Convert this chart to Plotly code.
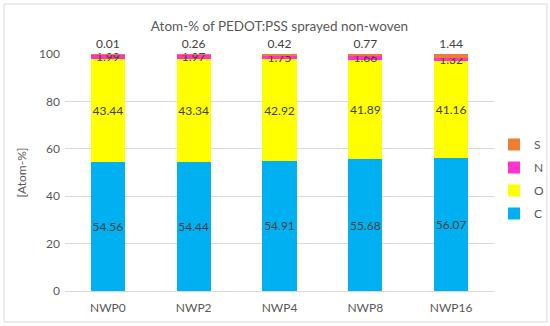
import plotly.graph_objects as go

categories = ["NWP0", "NWP2", "NWP4", "NWP8", "NWP16"]
C = [54.56, 54.44, 54.91, 55.68, 56.07]
O = [43.44, 43.34, 42.92, 41.89, 41.16]
N = [1.99, 1.97, 1.75, 1.66, 1.32]
S = [0.01, 0.26, 0.42, 0.77, 1.44]

series = [("C", C, "#00B0F0", "inside", 4),
          ("O", O, "#FFFF00", "inside", 3),
          ("N", N, "#FF33CC", "inside", 2),
          ("S", S, "#ED7D31", "outside", 1)]

FONT = "Lato"
L, R, T, B = 65, 56, 54, 35
PW, PH = 550 - L - R, 326 - T - B

fig = go.Figure()
for name, vals, col, pos, rank in series:
    fig.add_trace(go.Bar(
        x=categories, y=vals, name=name, marker_color=col,
        marker_line_width=0,
        text=[f"{v:.2f}" for v in vals], textposition=pos, textangle=0,
        insidetextanchor="middle", constraintext="none",
        textfont=dict(family=FONT, size=12, color="#404040"),
        cliponaxis=False, legendgroup=name, legendrank=rank,
    ))

fig.update_layout(
    barmode="stack", bargap=0.6,
    width=550, height=326,
    margin=dict(l=L, r=R, t=T, b=B, autoexpand=False),
    paper_bgcolor="white", plot_bgcolor="white",
    font=dict(family=FONT, color="#595959", size=12),
    title=dict(text="Atom-% of PEDOT:PSS sprayed non-woven", x=(L + PW / 2) / 550, xanchor="center",
               y=1 - 26 / 326, yanchor="middle",
               font=dict(size=13.5, color="#595959", family=FONT)),
    legend=dict(traceorder="grouped", x=(494 - L) / PW, xanchor="left",
                y=(326 - B - 130) / PH, yanchor="top",
                tracegroupgap=4, font=dict(size=12, color="#595959"),
                bgcolor="rgba(0,0,0,0)"),
    showlegend=True,
)
fig.update_yaxes(range=[0, 100.03], tickvals=[0, 20, 40, 60, 80, 100], showgrid=True, gridcolor="#D9D9D9",
                 zeroline=False, showline=False, ticks="", automargin=False, ticklabelstandoff=4,
                 tickfont=dict(size=12, color="#595959"),
                 title=dict(text="[Atom-%]", font=dict(size=12, color="#595959"), standoff=9))
fig.update_xaxes(range=[-0.5, 4.5], showgrid=False, showline=True, linecolor="#D9D9D9", ticks="",
                 automargin=False, ticklabelstandoff=6, tickfont=dict(size=12, color="#595959"))

fig.add_shape(type="rect", xref="paper", yref="paper",
              x0=(4 - L) / PW, x1=(547 - L) / PW,
              y0=(326 - B - 322) / PH, y1=(326 - B - 4) / PH,
              line=dict(color="#D9D9D9", width=1), fillcolor="rgba(0,0,0,0)", layer="below")

fig.write_html("out.html", config={"displayModeBar": False},
               post_script="document.body.style.margin='0';document.body.style.overflow='hidden';")
